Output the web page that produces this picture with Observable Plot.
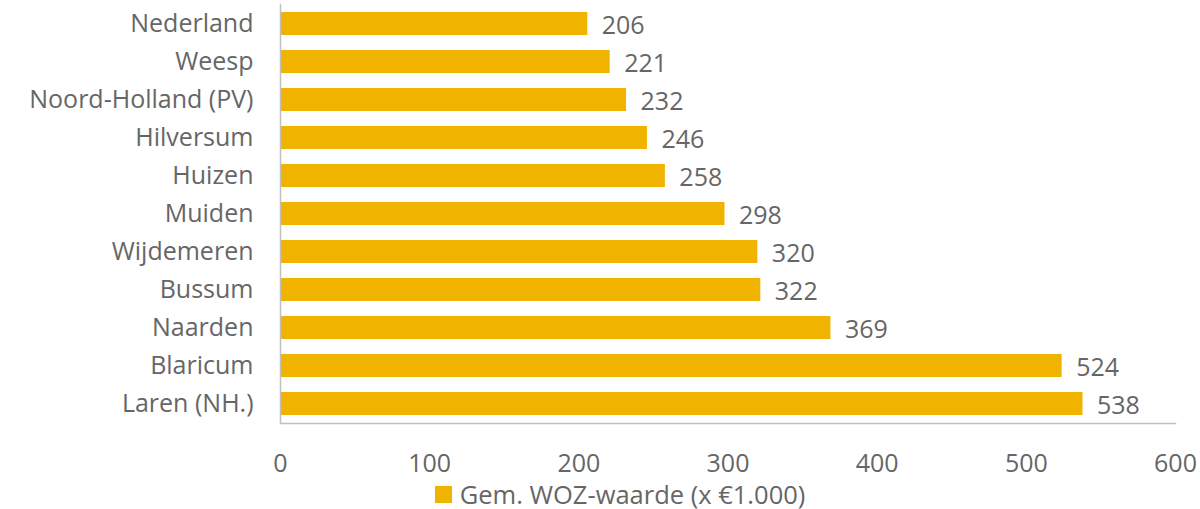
<!DOCTYPE html>
<html>
<head>
<meta charset="utf-8">
<script src="https://cdn.jsdelivr.net/npm/d3@7"></script>
<script src="https://cdn.jsdelivr.net/npm/@observablehq/plot@0.6"></script>
<style>
  html, body { margin: 0; padding: 0; background: #fff; }
  body { width: 1200px; height: 509px; overflow: hidden; font-family: "Open Sans", "Noto Sans", sans-serif; }
  #legend { position: absolute; left: 20px; top: 479px; width: 1200px; height: 30px; display: flex; justify-content: center; align-items: center; color: #666; font-size: 25.5px; }
  #legend .sw { width: 17px; height: 17px; background: #f0b400; margin-right: 8px; }
  #chart { position: absolute; left: 0; top: 0; }
</style>
</head>
<body>
<div id="chart"></div>
<div id="legend"><span class="sw"></span><span id="legtext"></span></div>
<script>
const categories = ["Nederland", "Weesp", "Noord-Holland (PV)", "Hilversum", "Huizen", "Muiden", "Wijdemeren", "Bussum", "Naarden", "Blaricum", "Laren (NH.)"];
const values = [206, 221, 232, 246, 258, 298, 320, 322, 369, 524, 538];
const xTicks = [0, 100, 200, 300, 400, 500, 600];
const seriesName = "Gem. WOZ-waarde (x €1.000)";

const data = categories.map((c, i) => ({name: c, value: values[i]}));
document.getElementById("legtext").textContent = seriesName;

const chart = Plot.plot({
  width: 1200,
  height: 478,
  marginLeft: 280,
  marginRight: 25,
  marginTop: 4,
  marginBottom: 55,
  style: {fontFamily: "'Open Sans', 'Noto Sans', sans-serif", color: "#666"},
  x: {domain: [0, 600], label: null},
  y: {domain: categories, paddingInner: 0.4, paddingOuter: 0.2, label: null},
  marks: [
    Plot.barX(data, {x: "value", y: "name", fill: "#f0b400"}),
    Plot.text(data, {x: "value", y: "name", text: d => String(d.value), textAnchor: "start", dx: 14, dy: 2, fontSize: 25, fill: "#666"}),
    Plot.frame({anchor: "left", stroke: "#bfbfbf", strokeWidth: 1.5, strokeOpacity: 1}),
    Plot.frame({anchor: "bottom", stroke: "#bfbfbf", strokeWidth: 1.5, strokeOpacity: 1}),
    Plot.axisX({ticks: xTicks, tickSize: 0, tickPadding: 31, fontSize: 25, fill: "#666", tickFormat: d => String(d), label: null}),
    Plot.axisY({tickSize: 0, tickPadding: 27, fontSize: 25, fill: "#666", label: null})
  ]
});
document.getElementById("chart").appendChild(chart);
</script>
</body>
</html>
